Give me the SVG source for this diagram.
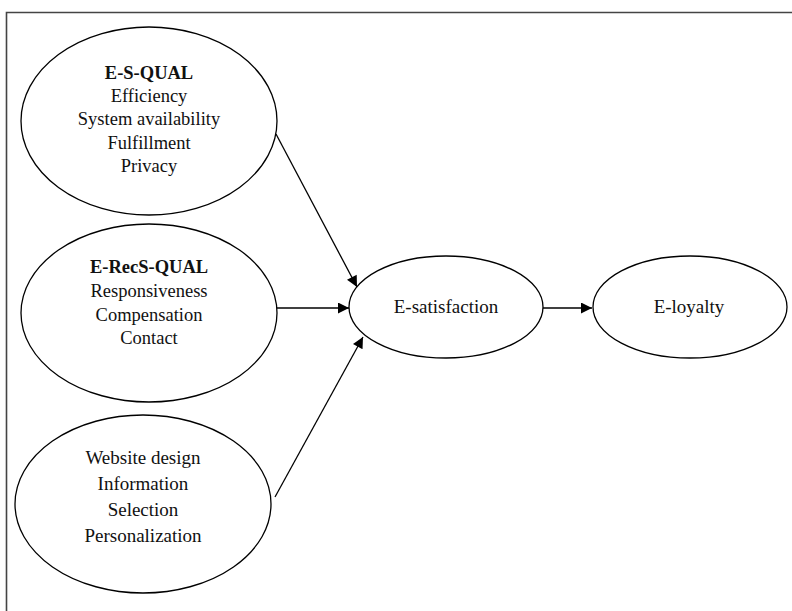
<svg xmlns="http://www.w3.org/2000/svg" width="792" height="611" viewBox="0 0 792 611">
<style>
.node ellipse{fill:#fff;stroke:#000;stroke-width:1.3}
.node text{font-family:"Liberation Serif","Times New Roman",serif;fill:#111;text-anchor:middle}
.t{font-size:18.5px}
.b{font-size:18.5px;font-weight:bold}
.r{font-size:19px}
.edge{stroke:#000;stroke-width:1.3;fill:none;marker-end:url(#ah)}
</style>
<defs>
<marker id="ah" viewBox="0 0 10 10" refX="10" refY="5" markerWidth="14" markerHeight="11" markerUnits="userSpaceOnUse" orient="auto">
<path d="M0,0 L10,5 L0,10 z" fill="#000"/>
</marker>
</defs>
<rect width="792" height="611" fill="#fff"/>
<path d="M6.5,611 V12.5 H792" fill="none" stroke="#444" stroke-width="1.6"/>
<g id="connectors">
<line class="edge" x1="276" y1="134" x2="357" y2="287"/>
<line class="edge" x1="277" y1="308" x2="349" y2="308"/>
<line class="edge" x1="275" y1="497" x2="363" y2="337"/>
<line class="edge" x1="543" y1="308" x2="592" y2="308"/>
</g>
<g id="esqual" class="node">
<ellipse cx="149" cy="121" rx="128" ry="94"/>
<text x="149" y="79" class="b">E-S-QUAL</text>
<text x="149" y="102" class="t">Efficiency</text>
<text x="149" y="125" class="t">System availability</text>
<text x="149" y="149" class="t">Fulfillment</text>
<text x="149" y="172" class="t">Privacy</text>
</g>
<g id="erecsqual" class="node">
<ellipse cx="149" cy="313" rx="128" ry="89"/>
<text x="149" y="273" class="b">E-RecS-QUAL</text>
<text x="149" y="297" class="t">Responsiveness</text>
<text x="149" y="321" class="t">Compensation</text>
<text x="149" y="344" class="t">Contact</text>
</g>
<g id="website" class="node">
<ellipse cx="143" cy="504" rx="128" ry="89"/>
<text x="143" y="464" class="r">Website design</text>
<text x="143" y="490" class="r">Information</text>
<text x="143" y="516" class="r">Selection</text>
<text x="143" y="542" class="r">Personalization</text>
</g>
<g id="esatisfaction" class="node">
<ellipse cx="446" cy="307" rx="97" ry="51"/>
<text x="446" y="313" class="r">E-satisfaction</text>
</g>
<g id="eloyalty" class="node">
<ellipse cx="690" cy="307" rx="97" ry="51"/>
<text x="689" y="313" class="r">E-loyalty</text>
</g>
</svg>
